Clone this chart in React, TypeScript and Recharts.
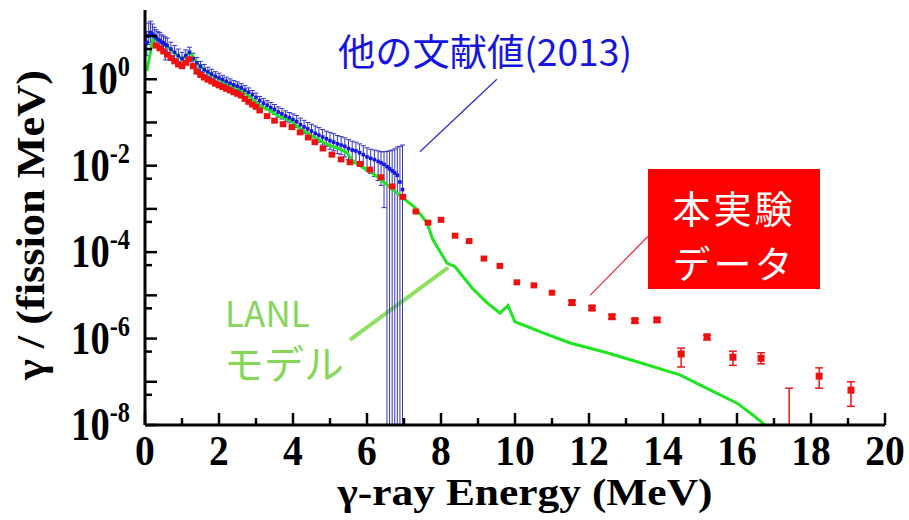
import { ComposedChart, XAxis, YAxis, Scatter, Line, ErrorBar, ReferenceLine } from "recharts";

// 他の文献値(2013): energy (MeV), value, upper / lower bound
const blueE = [
  0.05, 0.1, 0.15, 0.2, 0.25, 0.3, 0.35, 0.4, 0.45, 0.5, 0.55, 0.6, 0.7, 0.8, 0.9, 1.0,
  1.1, 1.2, 1.3, 1.4, 1.5, 1.6, 1.7, 1.8, 1.9, 2.0, 2.1, 2.2, 2.3, 2.4, 2.5, 2.6, 2.7,
  2.8, 2.9, 3.0, 3.1, 3.2, 3.3, 3.4, 3.5, 3.6, 3.7, 3.8, 3.9, 4.0, 4.1, 4.2, 4.3, 4.4,
  4.5, 4.6, 4.7, 4.8, 4.9, 5.0, 5.1, 5.2, 5.3, 5.4, 5.5, 5.6, 5.7, 5.8, 5.9, 6.0, 6.1,
  6.2, 6.3, 6.38, 6.46, 6.54, 6.61, 6.68, 6.75, 6.82, 6.89, 6.96,
];
const blueV = [
  7.1, 10, 12, 11, 10, 9.1, 8.3, 7.9, 7.2, 6.9, 6.3, 6.0, 5.0, 4.2, 3.5, 3.0,
  3.5, 4.2, 3.0, 2.4, 2.0, 1.66, 1.48, 1.32, 1.17, 1.07, 0.98, 0.89, 0.81, 0.74, 0.69, 0.63, 0.56,
  0.5, 0.44, 0.38, 0.32, 0.28, 0.25, 0.22, 0.2, 0.174, 0.158, 0.141, 0.129, 0.117, 0.105, 0.089, 0.079, 0.071,
  0.063, 0.056, 0.051, 0.046, 0.042, 0.038, 0.035, 0.032, 0.03, 0.028, 0.025, 0.023, 0.022, 0.02, 0.018, 0.016, 0.0148,
  0.0138, 0.0126, 0.0117, 0.0107, 0.0095, 0.0085, 0.0076, 0.0068, 0.006, 0.0042, 0.0028,
];
const blueHi = [
  12.6, 20, 22, 19, 16, 14, 12.6, 12, 10.7, 10, 9.5, 8.9, 7.2, 6.0, 5.0, 4.2,
  4.8, 5.5, 4.0, 3.2, 2.6, 2.2, 1.9, 1.7, 1.5, 1.38, 1.23, 1.12, 1.02, 0.93, 0.87, 0.79, 0.71,
  0.63, 0.55, 0.48, 0.4, 0.36, 0.32, 0.29, 0.26, 0.23, 0.21, 0.186, 0.17, 0.158, 0.145, 0.126, 0.112, 0.1,
  0.091, 0.083, 0.076, 0.069, 0.063, 0.059, 0.055, 0.05, 0.047, 0.044, 0.04, 0.037, 0.035, 0.032, 0.029, 0.026, 0.024,
  0.023, 0.022, 0.021, 0.021, 0.0215, 0.022, 0.023, 0.0245, 0.027, 0.028, 0.03,
];
const blueLo = [
  3.5, 6.3, 7.1, 6.3, 5.6, 5.6, 5.6, 5.2, 5.0, 4.6, 2.8, 4.2, 3.5, 3.0, 2.6, 2.3,
  2.6, 3.2, 2.3, 1.8, 1.5, 1.26, 1.15, 1.02, 0.91, 0.83, 0.78, 0.71, 0.65, 0.59, 0.55, 0.5, 0.45,
  0.4, 0.35, 0.3, 0.25, 0.22, 0.195, 0.174, 0.155, 0.132, 0.12, 0.107, 0.098, 0.087, 0.076, 0.063, 0.056, 0.05,
  0.044, 0.038, 0.035, 0.03, 0.028, 0.024, 0.022, 0.019, 0.018, 0.016, 0.014, 0.0126, 0.0112, 0.01, 0.0089, 0.0076, 0.0066,
  0.0056, 0.0045, 0.0035, 0.00107, 1e-8, 1e-8, 1e-8, 1e-8, 1e-8, 1e-8, 1e-8,
];

// 本実験データ: dense points without visible error bars
const redE = [
  0.3, 0.4, 0.5, 0.6, 0.7, 0.8, 0.9, 1.0, 1.1, 1.2, 1.3, 1.4, 1.5, 1.6, 1.7, 1.8, 1.9,
  2.0, 2.1, 2.2, 2.3, 2.4, 2.5, 2.6, 2.7, 2.8, 2.9, 3.0, 3.1, 3.3, 3.5, 3.73, 3.97,
  4.19, 4.41, 4.59, 4.81, 5.05, 5.3, 5.54, 5.81, 6.08, 6.38, 6.68, 6.97, 7.32, 7.65,
  8.0, 8.38, 8.76, 9.16, 9.59, 10.05, 10.51, 11.0,
];
const redV = [
  6.0, 5.2, 4.4, 3.7, 3.1, 2.6, 2.2, 2.0, 2.4, 2.9, 2.0, 1.5, 1.26, 1.1, 0.98, 0.89, 0.79,
  0.72, 0.66, 0.6, 0.55, 0.5, 0.46, 0.42, 0.35, 0.3, 0.26, 0.23, 0.19, 0.14, 0.11, 0.091, 0.078,
  0.059, 0.045, 0.035, 0.025, 0.018, 0.014, 0.012, 0.011, 0.0081, 0.0054, 0.0033, 0.0019, 8.7e-4, 4.8e-4,
  5.6e-4, 2.4e-4, 1.8e-4, 7.1e-5, 4.8e-5, 2.0e-5, 1.7e-5, 1.15e-5,
];

// 本実験データ: high-energy points with error bars (17.41 MeV point lies below the axis)
const redSpE = [11.54, 12.08, 12.62, 13.24, 13.84, 14.49, 15.19, 15.89, 16.65, 17.41, 18.22, 19.08];
const redSpV = [6.8e-6, 5.1e-6, 3.2e-6, 2.6e-6, 2.7e-6, 4.4e-7, 1.1e-6, 3.7e-7, 3.5e-7, 5e-9, 1.35e-7, 6.4e-8];
const redSpHi = [7.6e-6, 5.7e-6, 3.6e-6, 2.9e-6, 3.0e-6, 6.0e-7, 1.2e-6, 5.1e-7, 4.7e-7, 7.1e-8, 2.1e-7, 1.0e-7];
const redSpLo = [6.0e-6, 4.5e-6, 2.85e-6, 2.3e-6, 2.4e-6, 2.2e-7, 9.3e-7, 2.4e-7, 2.6e-7, 1e-8, 7.1e-8, 2.7e-8];

// LANL モデル
const lanlE = [
  0.05, 0.22, 0.41, 0.59, 0.76, 1.0, 1.22, 1.43, 1.68, 2.11, 2.57, 2.84, 3.11, 3.38, 3.57,
  3.97, 4.11, 4.46, 4.92, 5.27, 5.46, 5.62, 6.0, 6.27, 6.7, 6.97, 7.3, 7.62, 7.78, 8.16,
  8.38, 8.84, 9.24, 9.59, 9.81, 10.0, 10.76, 11.49, 12.49, 13.3, 14.19, 14.46, 15.27, 16.0,
  16.43, 16.7, 16.9,
];
const lanlV = [
  1.55, 8.9, 7.6, 5.9, 4.3, 2.9, 4.3, 2.2, 1.45, 0.89, 0.59, 0.38, 0.24, 0.19, 0.145,
  0.107, 0.081, 0.052, 0.031, 0.024, 0.02, 0.0126, 0.0081, 0.0056, 0.0028, 0.0018, 0.00107, 4.8e-4, 1.95e-4, 5.6e-5,
  4.6e-5, 1.48e-5, 6.8e-6, 3.9e-6, 5.8e-6, 2.45e-6, 1.35e-6, 7.9e-7, 4.7e-7, 2.9e-7, 1.7e-7, 1.45e-7, 6.5e-8, 3.2e-8,
  1.7e-8, 1.1e-8, 7e-9,
];

const xTicks = [0, 1, 2, 3, 4, 5, 6, 7, 8, 9, 10, 11, 12, 13, 14, 15, 16, 17, 18, 19, 20];
const xLabelled = [0, 2, 4, 6, 8, 10, 12, 14, 16, 18, 20];
const yMajor = [1e-8, 1e-7, 1e-6, 1e-5, 1e-4, 1e-3, 1e-2, 1e-1, 1, 10];
const yMinor = [5e-8, 5e-7, 5e-6, 5e-5, 5e-4, 5e-3, 5e-2, 5e-1, 5];
const yLabelled = [1e-8, 1e-6, 1e-4, 1e-2, 1];
const yLabelExp = ["-8", "-6", "-4", "-2", "0"];
const yTicks = [...yMajor, ...yMinor].sort((a, b) => a - b);

const blueData = blueE.map((e, i) => ({ e, v: blueV[i], err: [blueV[i] - blueLo[i], blueHi[i] - blueV[i]] }));
const redData = redE.map((e, i) => ({ e, v: redV[i] }));
const redSpData = redSpE.map((e, i) => ({ e, v: redSpV[i], err: [redSpV[i] - redSpLo[i], redSpHi[i] - redSpV[i]] }));
const lanlData = lanlE.map((e, i) => ({ e, v: lanlV[i] }));

const SERIF = "'Liberation Serif', 'Times New Roman', serif";
const JP = "'Noto Sans CJK JP', sans-serif";
const BLUE = "#1616e4";
const RED = "#f01010";
const GREEN = "#1ee61e";
const LIGHT_GREEN = "#86d65a";

function BottomTick({ x, y, payload }: any) {
  const major = xLabelled.includes(payload.value);
  return (
    <g>
      <line x1={x} x2={x} y1={y} y2={y - (major ? 12 : 7)} stroke="#000" strokeWidth={2.5} />
      {major && (
        <g transform={`translate(${x},${y + 40}) scale(0.92,1)`}>
          <text textAnchor="middle" fontFamily={SERIF} fontWeight="bold" fontSize={43} fill="#000">
            {payload.value}
          </text>
        </g>
      )}
    </g>
  );
}

function TopTick({ x, y, payload }: any) {
  const major = xLabelled.includes(payload.value);
  return <line x1={x} x2={x} y1={y} y2={y + (major ? 12 : 7)} stroke="#000" strokeWidth={2.5} />;
}

function LeftTick({ x, y, payload }: any) {
  const major = yMajor.includes(payload.value);
  const idx = yLabelled.indexOf(payload.value);
  return (
    <g>
      <line x1={x} x2={x + (major ? 12 : 7)} y1={y} y2={y} stroke="#000" strokeWidth={2.5} />
      {idx >= 0 && (
        <g transform={`translate(${x - 15},${y + 15}) scale(0.84,1)`}>
          <text textAnchor="end" fontFamily={SERIF} fontWeight="bold" fontSize={46} fill="#000">
            10
            <tspan dy={-18} fontSize={29}>
              {yLabelExp[idx]}
            </tspan>
          </text>
        </g>
      )}
    </g>
  );
}

function RightTick({ x, y, payload }: any) {
  const major = yMajor.includes(payload.value);
  return <line x1={x} x2={x - (major ? 12 : 7)} y1={y} y2={y} stroke="#000" strokeWidth={2.5} />;
}

const BlueDot = (p: any) => <rect x={p.cx - 1.8} y={p.cy - 1.8} width={3.6} height={3.6} fill={BLUE} />;
const RedDot = (p: any) => <rect x={p.cx - 3.3} y={p.cy - 3} width={6.6} height={6} fill={RED} />;
const RedBigDot = (p: any) => <rect x={p.cx - 3.5} y={p.cy - 3.5} width={7} height={7} fill={RED} />;

const axisLine = { stroke: "#000", strokeWidth: 3 };

export default function App() {
  return (
    <div style={{ position: "absolute", left: 0, top: 0, width: 909, height: 520, background: "#fff" }}>
      <ComposedChart width={909} height={520} margin={{ top: 10, right: 24, bottom: 0, left: 0 }}>
        <XAxis
          xAxisId="b"
          type="number"
          dataKey="e"
          domain={[0, 20]}
          ticks={xTicks}
          interval={0}
          allowDataOverflow
          height={95}
          tickSize={0}
          tickMargin={0}
          tickLine={false}
          axisLine={axisLine}
          tick={<BottomTick />}
        />
        <XAxis
          xAxisId="t"
          orientation="top"
          type="number"
          dataKey="e"
          domain={[0, 20]}
          ticks={xTicks}
          interval={0}
          height={0}
          tickSize={0}
          tickMargin={0}
          tickLine={false}
          axisLine={axisLine}
          tick={<TopTick />}
        />
        <YAxis
          yAxisId="l"
          scale="log"
          type="number"
          domain={[1e-8, 40]}
          ticks={yTicks}
          interval={0}
          allowDataOverflow
          width={145}
          tickSize={0}
          tickMargin={0}
          tickLine={false}
          axisLine={axisLine}
          tick={<LeftTick />}
        />
        <YAxis
          yAxisId="r"
          orientation="right"
          scale="log"
          type="number"
          domain={[1e-8, 40]}
          ticks={yTicks}
          interval={0}
          allowDataOverflow
          width={0}
          tickSize={0}
          tickMargin={0}
          tickLine={false}
          axisLine={axisLine}
          tick={<RightTick />}
        />

        <ReferenceLine
          xAxisId="b"
          yAxisId="l"
          segment={[{ x: 9.51, y: 1.0 }, { x: 7.43, y: 0.021 }]}
          stroke="#2a2ad8"
          strokeWidth={1.2}
        />
        <ReferenceLine
          xAxisId="b"
          yAxisId="l"
          segment={[{ x: 13.59, y: 2.3e-4 }, { x: 12.03, y: 1.0e-5 }]}
          stroke="#e8283c"
          strokeWidth={1.2}
        />
        <ReferenceLine
          xAxisId="b"
          yAxisId="l"
          segment={[{ x: 5.54, y: 9.3e-7 }, { x: 8.19, y: 4.4e-5 }]}
          stroke="#90e060"
          strokeWidth={4}
        />

        <Scatter xAxisId="b" yAxisId="l" data={blueData} dataKey="v" shape={BlueDot} isAnimationActive={false}>
          <ErrorBar dataKey="err" direction="y" width={2.5} stroke="#3434c4" strokeWidth={1} />
        </Scatter>
        <Scatter xAxisId="b" yAxisId="l" data={redData} dataKey="v" shape={RedDot} isAnimationActive={false} />
        <Scatter xAxisId="b" yAxisId="l" data={redSpData} dataKey="v" shape={RedBigDot} isAnimationActive={false}>
          <ErrorBar dataKey="err" direction="y" width={4} stroke="#e81818" strokeWidth={1.5} />
        </Scatter>
        <Line
          xAxisId="b"
          yAxisId="l"
          data={lanlData}
          dataKey="v"
          type="linear"
          stroke={GREEN}
          strokeWidth={3}
          dot={false}
          isAnimationActive={false}
        />
      </ComposedChart>

      <svg width={909} height={520} style={{ position: "absolute", left: 0, top: 0, pointerEvents: "none" }}>
        <text
          transform="translate(44,225) rotate(-90)"
          textAnchor="middle"
          fontFamily={SERIF}
          fontWeight="bold"
          fontSize={40}
          textLength={310}
          lengthAdjust="spacingAndGlyphs"
        >
          γ / (fission MeV)
        </text>
        <text
          x={525}
          y={505}
          textAnchor="middle"
          fontFamily={SERIF}
          fontWeight="bold"
          fontSize={38}
          textLength={375}
          lengthAdjust="spacingAndGlyphs"
        >
          γ-ray Energy (MeV)
        </text>

        <text x={338} y={66} fontFamily={JP} fontSize={37} fill={BLUE} textLength={294} lengthAdjust="spacingAndGlyphs">
          他の文献値(2013)
        </text>

        <text x={225} y={327} fontFamily={JP} fontSize={35} fill={LIGHT_GREEN}>
          LANL
        </text>
        <text x={224} y={379} fontFamily={JP} fontSize={40} fill={LIGHT_GREEN}>
          モデル
        </text>
      </svg>

      {/* 本実験データ label box */}
      <div
        style={{
          position: "absolute",
          left: 648,
          top: 169,
          width: 172,
          height: 120,
          boxSizing: "border-box",
          paddingTop: 10,
          background: "#ff0000",
          color: "#fff",
          fontFamily: JP,
          fontSize: 38,
          lineHeight: "55px",
          textAlign: "center",
          letterSpacing: 3,
        }}
      >
        <div>本実験</div>
        <div>データ</div>
      </div>
    </div>
  );
}
